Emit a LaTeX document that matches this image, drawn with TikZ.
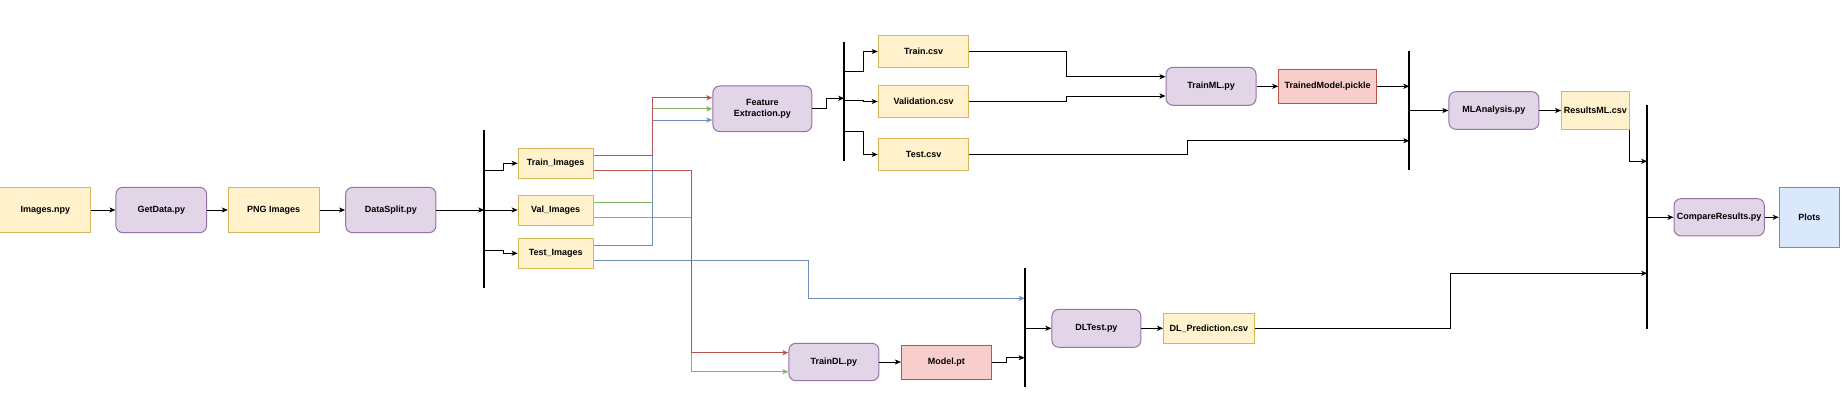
\documentclass[tikz,border=0pt]{standalone}
\usepackage{fontspec}
\setmainfont{Liberation Sans}
\usepackage{tikz}
\usetikzlibrary{arrows.meta,positioning,calc}
\definecolor{yellowfill}{HTML}{FFF2CC}
\definecolor{yellowline}{HTML}{D6B656}
\definecolor{purplefill}{HTML}{E1D5E7}
\definecolor{purpleline}{HTML}{9673A6}
\definecolor{redfill}{HTML}{F8CECC}
\definecolor{redline}{HTML}{B85450}
\definecolor{bluefill}{HTML}{DAE8FC}
\definecolor{blueline}{HTML}{6C8EBF}
\definecolor{greenline}{HTML}{82B366}

\begin{document}
\begin{tikzpicture}
[x=1pt,y=-1pt,node distance=116pt,line width=1pt,font=\bfseries\fontsize{9}{11.3}\selectfont,
 >={Stealth[length=6pt,width=5pt,inset=1.5pt]}]
\tikzstyle{datafile}=[fill=yellowfill,draw=yellowline,inner sep=0pt,minimum width=90.7pt,minimum height=31.6pt]
\tikzstyle{script}=[fill=purplefill,draw=purpleline,rounded corners=7pt,inner sep=0pt,minimum width=90pt,minimum height=38pt]
\tikzstyle{model}=[fill=redfill,draw=redline,inner sep=0pt,minimum width=90pt,minimum height=34pt]
\tikzstyle{result}=[fill=bluefill,draw=blueline,inner sep=0pt,minimum width=60pt,minimum height=59.6pt]
\tikzstyle{splitbar}=[line width=2pt]

\useasboundingbox (0,0) rectangle (1844,410);

\draw node [datafile,minimum height=45.4pt] (imagesnpy) at (45.3,210) {Images.npy};
\draw node [script,minimum width=90.7pt,minimum height=45.4pt,right of=imagesnpy] (getdata) {GetData.py};
\draw node [datafile,minimum height=45.4pt,right of=getdata,node distance=112.4pt] (pngimages) {PNG Images};
\draw node [script,minimum width=90.3pt,minimum height=45.4pt,right of=pngimages,node distance=117.1pt] (datasplit) {DataSplit.py};

\draw node [datafile,minimum width=75pt,minimum height=30pt,right of=datasplit,node distance=164.9pt] (valimg) {Val\_Images};
\draw node [datafile,minimum width=75pt,minimum height=30pt,above of=valimg,node distance=46.7pt] (trainimg) {Train\_Images};
\draw node [datafile,minimum width=75pt,minimum height=30pt,below of=valimg,node distance=43.3pt] (testimg) {Test\_Images};

\draw node [script,minimum width=99pt,minimum height=45.7pt,align=center] (featext) at (762.3,108.8) {Feature\\Extraction.py};
\draw node [datafile] (valcsv) at (923.6,101.5) {Validation.csv};
\draw node [datafile,above of=valcsv,node distance=50pt] (traincsv) {Train.csv};
\draw node [datafile,below of=valcsv,node distance=53pt] (testcsv) {Test.csv};

\draw node [script] (trainml) at (1211,86.3) {TrainML.py};
\draw node [model,minimum width=97.5pt,minimum height=33.7pt,right of=trainml,node distance=116.5pt] (pickle) {TrainedModel.pickle};
\draw node [script,minimum height=37.6pt] (mlanalysis) at (1493.9,110.5) {MLAnalysis.py};
\draw node [datafile,minimum width=67.4pt,minimum height=37.6pt,right of=mlanalysis,node distance=101.4pt] (resultsml) {ResultsML.csv};

\draw node [script,minimum width=90.3pt,minimum height=37.3pt] (compare) at (1719.2,217.3) {CompareResults.py};
\draw node [result,right of=compare,node distance=90.1pt] (plots) {Plots};

\draw node [script,minimum height=37.4pt] (traindl) at (833.9,362) {TrainDL.py};
\draw node [model,right of=traindl,node distance=112.5pt] (modelpt) {Model.pt};
\draw node [script,minimum width=89pt] (dltest) at (1096.4,328.3) {DLTest.py};
\draw node [datafile,minimum height=30pt,right of=dltest,node distance=112.5pt] (dlpred) {DL\_Prediction.csv};

% split bars
\coordinate (bar1top) at (484.3,130);   \coordinate (bar1bot) at (484.3,288.3);
\coordinate (bar2top) at (844.3,41.7);  \coordinate (bar2bot) at (844.3,161);
\coordinate (bar3top) at (1409.4,50.7); \coordinate (bar3bot) at (1409.4,170);
\coordinate (bar4top) at (1647.3,105);  \coordinate (bar4bot) at (1647.3,329.3);
\coordinate (bar5top) at (1024.6,268.3);\coordinate (bar5bot) at (1024.6,387.3);
\draw [splitbar] (bar1top) -- (bar1bot);
\draw [splitbar] (bar2top) -- (bar2bot);
\draw [splitbar] (bar3top) -- (bar3bot);
\draw [splitbar] (bar4top) -- (bar4bot);
\draw [splitbar] (bar5top) -- (bar5bot);

\draw [->] (imagesnpy) -- (getdata);
\draw [->] (getdata) -- (pngimages);
\draw [->] (pngimages) -- (datasplit);
\draw [->] (datasplit) -- (datasplit -| bar1top);

\draw [->] ($(bar1top)+(0,40)$) -- ++(19,0) |- (trainimg);
\draw [->] (valimg -| bar1top) -- (valimg);
\draw [->] ($(bar1top)+(0,120)$) -- ++(19,0) |- (testimg);

% green first, red on top
\draw [->,greenline] ($(valimg.east)+(0,-7.3)$) -| ($(featext.west)+(-59.7,0)$) -- (featext.west);
\draw [->,greenline] ($(valimg.east)+(0,7.7)$) -| ($(traindl.west)+(-97.4,9.7)$) -- ($(traindl.west)+(0,9.7)$);
\draw [->,blueline] ($(testimg.east)+(0,-7.6)$) -| ($(featext.west)+(-59.7,11.2)$) -- ($(featext.west)+(0,11.2)$);
\draw [->,blueline] ($(testimg.east)+(0,7.4)$) -- ++(214.3,0) |- ($(bar5top)+(0,30)$);
\draw [->,redline] ($(trainimg.east)+(0,-7.6)$) -| ($(featext.west)+(-59.7,-11.1)$) -- ($(featext.west)+(0,-11.1)$);
\draw [->,redline] ($(trainimg.east)+(0,7.4)$) -| ($(traindl.west)+(-97.4,-9.3)$) -- ($(traindl.west)+(0,-9.3)$);

\draw [->] (featext.east) -- ++(14.2,0) |- ($(bar2top)+(0,56.6)$);
\draw [->] ($(bar2top)+(0,30)$) -- ++(19.3,0) |- (traincsv);
\draw [->] ($(bar2top)+(0,58.3)$) -- ++(19.3,0) |- (valcsv);
\draw [->] ($(bar2top)+(0,90)$) -- ++(19.3,0) |- (testcsv);

\draw [->] (traincsv.east) -| ($(trainml.west)+(-98.8,-9.6)$) -- ($(trainml.west)+(0,-9.6)$);
\draw [->] (valcsv.east) -| ($(trainml.west)+(-98.8,9.7)$) -- ($(trainml.west)+(0,9.7)$);
\draw [->] (testcsv.east) -| ($(bar3top)+(-221.6,90)$) -- ($(bar3top)+(0,90)$);
\draw [->] (trainml) -- (pickle);
\draw [->] (pickle) -- (pickle -| bar3top);
\draw [->] (mlanalysis -| bar3top) -- (mlanalysis);
\draw [->] (mlanalysis) -- (resultsml);
\draw [->] (resultsml.south east) |- ($(bar4top)+(0,56.3)$);

\draw [->] (traindl) -- (modelpt);
\draw [->] (modelpt.east) -- ++(14.8,0) |- ($(bar5top)+(0,89.4)$);
\draw [->] (dltest -| bar5top) -- (dltest);
\draw [->] (dltest) -- (dlpred);
\draw [->] (dlpred.east) -- ++(195.3,0) |- ($(bar4top)+(0,168.3)$);

\draw [->] (compare -| bar4top) -- (compare);
\draw [->] (compare) -- (plots);

\end{tikzpicture}
\end{document}
